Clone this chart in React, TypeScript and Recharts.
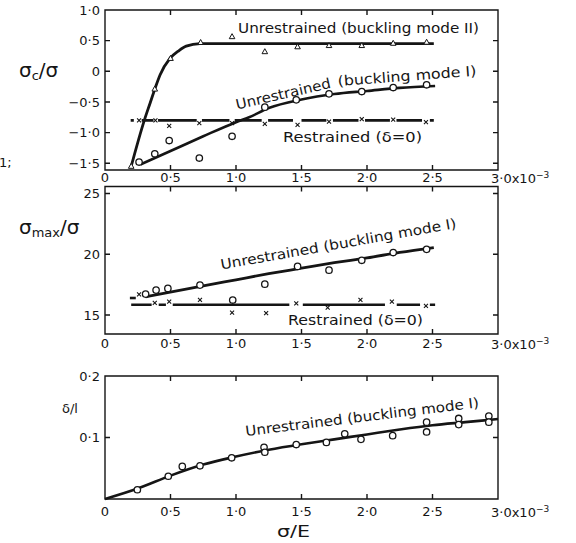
import React from 'react';
import { ComposedChart, Line, XAxis, YAxis } from 'recharts';

type P = [number, number];

const xTicks = [0, 0.5, 1, 1.5, 2, 2.5, 3];

// ---------- Panel 1: sigma_c / sigma ----------
const p1YTicks = [-1.5, -1, -0.5, 0, 0.5, 1];
const p1ModeIICurve: P[] = [[0.2, -1.55], [0.3, -0.8], [0.344, -0.52], [0.382, -0.28], [0.42, -0.06], [0.496, 0.21], [0.56, 0.33], [0.62, 0.41], [0.725, 0.45], [0.9, 0.452], [1.5, 0.452], [2.51, 0.452]];
const p1ModeIIPts: P[] = [[0.2, -1.55], [0.38, -0.29], [0.5, 0.21], [0.73, 0.47], [0.97, 0.565], [1.22, 0.32], [1.47, 0.4], [1.71, 0.42], [1.96, 0.42], [2.2, 0.457], [2.455, 0.474]];
const p1ModeICurve: P[] = [[0.27, -1.52], [0.5, -1.3], [0.75, -1.06], [1.0, -0.83], [1.1, -0.75], [1.25, -0.6], [1.5, -0.46], [1.75, -0.37], [2.0, -0.32], [2.25, -0.27], [2.52, -0.24]];
const p1ModeIPts: P[] = [[0.26, -1.48], [0.38, -1.345], [0.49, -1.13], [0.72, -1.415], [0.97, -1.06], [1.22, -0.585], [1.46, -0.466], [1.71, -0.368], [1.96, -0.33], [2.2, -0.265], [2.455, -0.22]];
const p1RestrainedLevel = -0.8;
const p1RestrainedDashes: P[] = [[0.196, 0.22], [0.28, 0.37], [0.405, 0.7], [0.74, 0.95], [0.99, 1.196], [1.245, 1.435], [1.5, 1.69], [1.74, 1.935], [1.985, 2.175], [2.225, 2.42], [2.48, 2.51]];
const p1RestrainedPts: P[] = [[0.26, -0.8], [0.385, -0.8], [0.49, -0.89], [0.72, -0.845], [0.97, -0.845], [1.22, -0.857], [1.47, -0.873], [1.71, -0.82], [1.96, -0.78], [2.2, -0.79], [2.45, -0.83]];

// ---------- Panel 2: sigma_max / sigma ----------
const p2YTicks = [15, 20, 25];
const p2UnrestrainedLine: P[] = [[0.31, 16.5], [0.75, 17.4], [1.0, 17.9], [1.25, 18.4], [1.5, 18.85], [1.75, 19.3], [2.0, 19.7], [2.25, 20.15], [2.51, 20.55]];
const p2UnrestrainedPts: P[] = [[0.31, 16.72], [0.39, 17.05], [0.48, 17.19], [0.725, 17.46], [0.975, 16.23], [1.22, 17.54], [1.47, 19.0], [1.71, 18.69], [1.96, 19.5], [2.2, 20.14], [2.455, 20.4]];
const p2RestrainedLevel = 15.85;
const p2RestrainedDashes: P[] = [[0.2, 0.356], [0.41, 0.465], [0.517, 1.407], [1.51, 2.137], [2.227, 2.405], [2.48, 2.52]];
const p2RestrainedStub: P[] = [[0.19, 16.4], [0.235, 16.4]];
const p2RestrainedPts: P[] = [[0.26, 16.7], [0.38, 16.0], [0.49, 16.1], [0.725, 16.25], [0.97, 15.2], [1.23, 15.15], [1.46, 15.95], [1.7, 15.6], [1.95, 16.25], [2.19, 16.1], [2.45, 15.75]];

// ---------- Panel 3: delta / l ----------
const p3YTicks = [0.1, 0.2];
const p3Curve: P[] = [[0, 0], [0.25, 0.017], [0.5, 0.038], [0.75, 0.056], [1.0, 0.069], [1.25, 0.08], [1.5, 0.089], [1.75, 0.097], [2.0, 0.105], [2.25, 0.113], [2.5, 0.12], [2.75, 0.125], [3.0, 0.13]];
const p3Pts: P[] = [[0.247, 0.015], [0.483, 0.037], [0.59, 0.053], [0.725, 0.054], [0.967, 0.067], [1.214, 0.084], [1.22, 0.076], [1.46, 0.0885], [1.69, 0.092], [1.83, 0.106], [1.954, 0.097], [2.196, 0.103], [2.455, 0.125], [2.455, 0.109], [2.7, 0.131], [2.7, 0.121], [2.93, 0.135], [2.93, 0.125]];

// ---------- helpers ----------
type Pt = { x: number; y: number | null };
const toPts = (a: P[]): Pt[] => a.map(([x, y]) => ({ x, y }));
const dashData = (segs: P[], level: number) => {
  const out: Pt[] = [];
  segs.forEach(([a, b], i) => {
    if (i > 0) out.push({ x: (segs[i - 1][1] + a) / 2, y: null });
    out.push({ x: a, y: level }, { x: b, y: level });
  });
  return out;
};

const INK = '#151515';
const FONT = 'DejaVu Sans';
const W = 576;
const H = 543;
const TICK_PX = 5;

const fmt = (v: number) => {
  if (v === 0) return '0';
  const s = Math.abs(v).toFixed(1).replace('.', '·');
  return (v < 0 ? '−' : '') + s;
};
const xFmt = (v: number) => (v === 3 ? '' : fmt(v));

const CircleDot = (p: any) => (
  <circle key={`c${p.index}`} cx={p.cx} cy={p.cy} r={3.2} fill="#fff" stroke={INK} strokeWidth={1.3} />
);
const TriDot = (p: any) => (
  <path key={`t${p.index}`} d={`M${p.cx},${p.cy - 3}L${p.cx + 2.8},${p.cy + 2}L${p.cx - 2.8},${p.cy + 2}Z`} fill="#fff" stroke={INK} strokeWidth={1} />
);
const CrossDot = (p: any) => (
  <path key={`x${p.index}`} d={`M${p.cx - 2},${p.cy - 2}L${p.cx + 2},${p.cy + 2}M${p.cx + 2},${p.cy - 2}L${p.cx - 2},${p.cy + 2}`} fill="none" stroke={INK} strokeWidth={1.1} />
);

const lp = { xAxisId: 'b', yAxisId: 'l', dataKey: 'y', activeDot: false, isAnimationActive: false } as any;
const tickStyle = { fill: INK, fontSize: 13, fontFamily: FONT };

const p1Domain: [number, number] = [-1.61, 1];
const p2Domain: [number, number] = [13.44, 25.57];
const p3Domain: [number, number] = [0, 0.2];

// plot-area geometry (same numbers as the chart margins below)
const PLOT_L = 105;
const PLOT_R = 498;
const frames = [
  { top: 10, bottom: 170, d: p1Domain, yTicks: p1YTicks },
  { top: 186.5, bottom: 334, d: p2Domain, yTicks: p2YTicks },
  { top: 376, bottom: 499, d: p3Domain, yTicks: p3YTicks },
];
const framePath = (f: { top: number; bottom: number; d: [number, number]; yTicks: number[] }) => {
  const { top, bottom, d, yTicks } = f;
  let s = `M${PLOT_L},${top}H${PLOT_R}V${bottom}H${PLOT_L}Z`;
  xTicks.filter((t) => t > 0 && t < 3).forEach((t) => {
    const px = PLOT_L + ((PLOT_R - PLOT_L) * t) / 3;
    s += `M${px},${bottom}v${-TICK_PX}M${px},${top}v${TICK_PX}`;
  });
  yTicks.filter((t) => t > d[0] && t < d[1]).forEach((t) => {
    const py = top + ((d[1] - t) / (d[1] - d[0])) * (bottom - top);
    s += `M${PLOT_L},${py}h${TICK_PX}M${PLOT_R},${py}h${-TICK_PX}`;
  });
  return s;
};

const T = ({ x, y, size = 14, rot = 0, len, children }: { x: number; y: number; size?: number; rot?: number; len?: number; children: React.ReactNode }) => (
  <text
    x={x}
    y={y}
    fontSize={size}
    fontFamily={FONT}
    fill={INK}
    transform={rot ? `rotate(${rot} ${x} ${y})` : undefined}
    textLength={len}
    lengthAdjust={len ? 'spacingAndGlyphs' : undefined}
  >
    {children}
  </text>
);

export default function App() {
  return (
    <div style={{ position: 'absolute', left: 0, top: 0, width: W, height: H, background: '#fff' }}>
      {/* Panel 1: page y 0..185, plot 10..170 */}
      <div style={{ position: 'absolute', left: 0, top: 0 }}>
        <ComposedChart width={W} height={185} margin={{ top: 10, right: 78, bottom: 0, left: 0 }}>
          <XAxis xAxisId="b" type="number" dataKey="x" domain={[0, 3]} ticks={xTicks} height={15}
            axisLine={false} tickLine={false} tickSize={1} tickMargin={2} tickFormatter={xFmt} tick={tickStyle} />
          <YAxis yAxisId="l" type="number" domain={p1Domain} ticks={p1YTicks} width={105}
            axisLine={false} tickLine={false} tickSize={1} tickMargin={4} tickFormatter={fmt} tick={tickStyle} />
          <Line {...lp} data={toPts(p1ModeIICurve)} type="monotone" stroke={INK} strokeWidth={2.8} dot={false} />
          <Line {...lp} data={toPts(p1ModeICurve)} type="monotone" stroke={INK} strokeWidth={2.6} dot={false} />
          <Line {...lp} data={dashData(p1RestrainedDashes, p1RestrainedLevel)} stroke={INK} strokeWidth={2.8} dot={false} />
          <Line {...lp} data={toPts(p1ModeIIPts)} stroke="none" dot={TriDot} />
          <Line {...lp} data={toPts(p1ModeIPts)} stroke="none" dot={CircleDot} />
          <Line {...lp} data={toPts(p1RestrainedPts)} stroke="none" dot={CrossDot} />
        </ComposedChart>
      </div>

      {/* Panel 2: page y 185..360, plot 186.5..334 */}
      <div style={{ position: 'absolute', left: 0, top: 185 }}>
        <ComposedChart width={W} height={175} margin={{ top: 1.5, right: 78, bottom: 0, left: 0 }}>
          <XAxis xAxisId="b" type="number" dataKey="x" domain={[0, 3]} ticks={xTicks} height={26}
            axisLine={false} tickLine={false} tickSize={1} tickMargin={4} tickFormatter={xFmt} tick={tickStyle} />
          <YAxis yAxisId="l" type="number" domain={p2Domain} ticks={p2YTicks} width={105}
            axisLine={false} tickLine={false} tickSize={1} tickMargin={4} tick={tickStyle} />
          <Line {...lp} data={toPts(p2UnrestrainedLine)} type="monotone" stroke={INK} strokeWidth={2.8} dot={false} />
          <Line {...lp} data={dashData(p2RestrainedDashes, p2RestrainedLevel)} stroke={INK} strokeWidth={2.6} dot={false} />
          <Line {...lp} data={toPts(p2RestrainedStub)} stroke={INK} strokeWidth={2.6} dot={false} />
          <Line {...lp} data={toPts(p2UnrestrainedPts)} stroke="none" dot={CircleDot} />
          <Line {...lp} data={toPts(p2RestrainedPts)} stroke="none" dot={CrossDot} />
        </ComposedChart>
      </div>

      {/* Panel 3: page y 360..543, plot 376..499 */}
      <div style={{ position: 'absolute', left: 0, top: 360 }}>
        <ComposedChart width={W} height={183} margin={{ top: 16, right: 78, bottom: 0, left: 0 }}>
          <XAxis xAxisId="b" type="number" dataKey="x" domain={[0, 3]} ticks={xTicks} height={44}
            axisLine={false} tickLine={false} tickSize={1} tickMargin={7} tickFormatter={xFmt} tick={tickStyle} />
          <YAxis yAxisId="l" type="number" domain={p3Domain} ticks={p3YTicks} width={105}
            axisLine={false} tickLine={false} tickSize={1} tickMargin={4} tickFormatter={fmt} tick={tickStyle} />
          <Line {...lp} data={toPts(p3Curve)} type="monotone" stroke={INK} strokeWidth={2.6} dot={false} />
          <Line {...lp} data={toPts(p3Pts)} stroke="none" dot={CircleDot} />
        </ComposedChart>
      </div>

      {/* frames with inward ticks, annotations and titles */}
      <svg width={W} height={H} style={{ position: 'absolute', left: 0, top: 0, pointerEvents: 'none' }}>
        {frames.map((f, i) => (
          <path key={i} d={framePath(f)} fill="none" stroke={INK} strokeWidth={1.4} />
        ))}

        <T x={238} y={33.3} len={241}>Unrestrained (buckling mode II)</T>
        <T x={237} y={109.5} rot={-13} len={97}>Unrestrained</T>
        <T x={338} y={86} rot={-4.3} len={139}>(buckling mode I)</T>
        <T x={283} y={141.5} len={139}>Restrained (δ=0)</T>
        <T x={221.5} y={269.5} rot={-10} len={239}>Unrestrained (buckling mode I)</T>
        <T x={288} y={325} len={135}>Restrained (δ=0)</T>
        <T x={246} y={436} rot={-7} len={235}>Unrestrained (buckling mode I)</T>

        <text x={19} y={77} fontSize={20} fontFamily={FONT} fill={INK}>
          σ<tspan fontSize={13} dy={3}>c</tspan><tspan fontSize={20} dy={-3}>/σ</tspan>
        </text>
        <text x={19} y={234} fontSize={20} fontFamily={FONT} fill={INK}>
          σ<tspan fontSize={13} dy={3}>max</tspan><tspan fontSize={20} dy={-3}>/σ</tspan>
        </text>
        <T x={62} y={413} size={13}>δ/l</T>
        <T x={277} y={537} size={16} len={33}>σ/E</T>
        <T x={-1} y={167} size={13}>1;</T>
        {[182.5, 348.5, 516.5].map((y) => (
          <text key={y} x={491} y={y} fontSize={13} fontFamily={FONT} fill={INK}>
            3·0x10<tspan dy={-5} fontSize={9}>−3</tspan>
          </text>
        ))}
      </svg>
    </div>
  );
}
